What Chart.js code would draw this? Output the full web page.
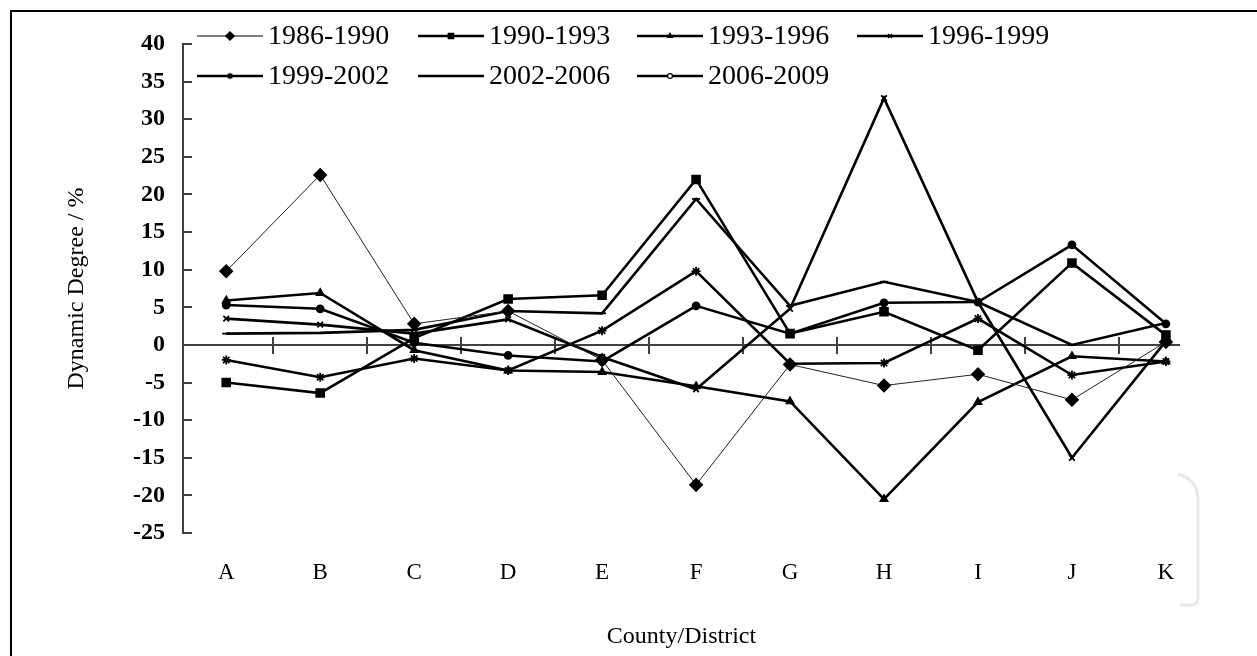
<!DOCTYPE html>
<html lang="en">
<head>
  <meta charset="UTF-8">
  <title>Dynamic Degree by County/District</title>
  <script src="https://cdn.jsdelivr.net/npm/chart.js"></script>
  <style>
    body {
      margin: 0;
      background: #fff;
    }
    #box {
      width: 1257px;
      height: 656px;
      position: relative;
    }
  </style>
</head>
<body>
  <div id="box">
    <canvas id="lineChart"></canvas>
  </div>

  <script>
    // values
    const districts = ["A", "B", "C", "D", "E", "F", "G", "H", "I", "J", "K"];
    const yTickValues = [40, 35, 30, 25, 20, 15, 10, 5, 0, -5, -10, -15, -20, -25];
    const periods = ["1986-1990", "1990-1993", "1993-1996", "1996-1999", "1999-2002", "2002-2006", "2006-2009"];

    const p1986_1990 = [9.8, 22.6, 2.8, 4.5, -2.0, -18.6, -2.6, -5.4, -3.9, -7.3, 0.4];
    const p1990_1993 = [-5.0, -6.4, 0.9, 6.1, 6.6, 22.0, 1.5, 4.4, -0.7, 10.9, 1.3];
    const p1993_1996 = [5.9, 6.9, -0.7, -3.4, -3.6, -5.5, -7.5, -20.5, -7.6, -1.5, -2.2];
    const p1996_1999 = [3.5, 2.7, 1.5, 3.4, -1.6, -5.9, 4.8, 32.8, 5.7, -15.0, 0.5];
    const p1999_2002 = [-2.0, -4.3, -1.8, -3.4, 1.9, 9.8, -2.5, -2.4, 3.5, -4.0, -2.2];
    const p2002_2006 = [1.5, 1.6, 2.0, 4.5, 4.2, 19.4, 5.2, 8.4, 5.7, 0.0, 2.9];
    const p2006_2009 = [5.3, 4.8, 0.3, -1.4, -2.2, 5.2, 1.5, 5.6, 5.7, 13.3, 2.8];

    const seriesValues = [p1986_1990, p1990_1993, p1993_1996, p1996_1999, p1999_2002, p2002_2006, p2006_2009];
    const markers = ["rectRot", "rect", "triangle", "crossRot", "star", "line", "circle"];
    const markerSizes = [6, 5.5, 4, 4, 4.5, 4, 3.5];

    const serif = "'Liberation Serif', 'Times New Roman', serif";

    function toPoints(vals) {
      return vals.map((v, i) => ({ x: i, y: v }));
    }

    const datasets = periods.map((name, k) => ({
      label: name,
      data: toPoints(seriesValues[k]),
      borderColor: k === 0 ? "#222" : "#000",
      borderWidth: k === 0 ? 1 : 2.6,
      pointStyle: markers[k],
      pointRadius: markerSizes[k],
      pointBorderWidth: 1.8,
      pointBackgroundColor: "#000",
      pointBorderColor: "#000",
      tension: 0
    }));

    // frame, zero axis with cross ticks, inner y ticks, legend inside the plot
    const decor = {
      id: "decor",
      beforeDraw(chart) {
        const ctx = chart.ctx;
        ctx.save();
        ctx.fillStyle = "#fff";
        ctx.fillRect(0, 0, chart.width, chart.height);
        ctx.strokeStyle = "#000";
        ctx.lineWidth = 2;
        ctx.beginPath();
        ctx.moveTo(11, chart.height);
        ctx.lineTo(11, 11);
        ctx.lineTo(chart.width, 11);
        ctx.stroke();
        // faint scan mark at the lower right
        ctx.strokeStyle = "#e8e8e8";
        ctx.lineWidth = 3;
        ctx.beginPath();
        ctx.moveTo(1178, 474);
        ctx.quadraticCurveTo(1198, 480, 1198, 500);
        ctx.lineTo(1198, 598);
        ctx.quadraticCurveTo(1198, 605, 1190, 605);
        ctx.lineTo(1180, 605);
        ctx.stroke();
        ctx.restore();
      },
      beforeDatasetsDraw(chart) {
        const { ctx, chartArea, scales } = chart;
        const y0 = scales.y.getPixelForValue(0);
        ctx.save();
        ctx.strokeStyle = "#404040";
        ctx.lineWidth = 2;
        ctx.beginPath();
        ctx.moveTo(chartArea.left, y0);
        ctx.lineTo(chartArea.right, y0);
        for (let i = 0; i < districts.length - 1; i++) {
          const px = Math.round(scales.x.getPixelForValue(i + 0.5));
          ctx.moveTo(px, y0 - 8);
          ctx.lineTo(px, y0 + 9);
        }
        yTickValues.forEach(v => {
          const py = Math.round(scales.y.getPixelForValue(v));
          ctx.moveTo(chartArea.left, py);
          ctx.lineTo(chartArea.left + 9, py);
        });
        ctx.stroke();
        ctx.restore();
      },
      afterDraw(chart) {
        const ctx = chart.ctx;
        const cols = [197, 418, 637, 857];
        const rows = [36, 76];
        ctx.save();
        ctx.font = "28px " + serif;
        ctx.textBaseline = "middle";
        chart.data.datasets.forEach((ds, k) => {
          const x = cols[k % 4];
          const y = rows[Math.floor(k / 4)];
          ctx.strokeStyle = "#000";
          ctx.lineWidth = ds.borderWidth;
          ctx.beginPath();
          ctx.moveTo(x, y);
          ctx.lineTo(x + 66, y);
          ctx.stroke();
          if (ds.pointStyle !== "line") {
            ctx.fillStyle = ds.pointStyle === "circle" ? "#fff" : "#000";
            ctx.lineWidth = 1.2;
            Chart.helpers.drawPoint(ctx, {
              pointStyle: ds.pointStyle,
              radius: ds.pointRadius * 0.7,
              rotation: 0,
              borderWidth: 1.2
            }, x + 33, y);
          }
          ctx.fillStyle = "#000";
          ctx.fillText(ds.label, x + 71, y + 1);
        });
        ctx.restore();
      }
    };

    new Chart(document.getElementById("lineChart"), {
      type: "line",
      data: { datasets: datasets },
      plugins: [decor],
      options: {
        responsive: true,
        maintainAspectRatio: false,
        animation: false,
        layout: {
          padding: { left: 52, right: 77, top: 44, bottom: 0 }
        },
        plugins: {
          legend: { display: false },
          tooltip: { enabled: false }
        },
        scales: {
          x: {
            type: "linear",
            min: -0.46,
            max: 10.15,
            afterBuildTicks: scale => {
              scale.ticks = districts.map((_, i) => ({ value: i }));
            },
            afterFit: scale => {
              scale.height = 123;
            },
            grid: { display: false },
            border: { display: false },
            ticks: {
              autoSkip: false,
              maxRotation: 0,
              padding: 18,
              color: "#000",
              font: { family: serif, size: 23 },
              callback: value => districts[value]
            },
            title: {
              display: true,
              text: "County/District",
              color: "#000",
              font: { family: serif, size: 24 },
              padding: { top: 0, bottom: 5 }
            }
          },
          y: {
            min: -25,
            max: 40,
            afterBuildTicks: scale => {
              scale.ticks = yTickValues.map(v => ({ value: v }));
            },
            afterFit: scale => {
              scale.width = 131;
            },
            grid: { display: false },
            border: { display: true, color: "#404040", width: 2 },
            ticks: {
              padding: 10,
              color: "#000",
              font: { family: serif, size: 24, weight: "bold" }
            },
            title: {
              display: true,
              text: "Dynamic Degree / %",
              color: "#000",
              font: { family: serif, size: 24 },
              padding: { top: 10, bottom: 0 }
            }
          }
        }
      }
    });
  </script>
</body>
</html>
